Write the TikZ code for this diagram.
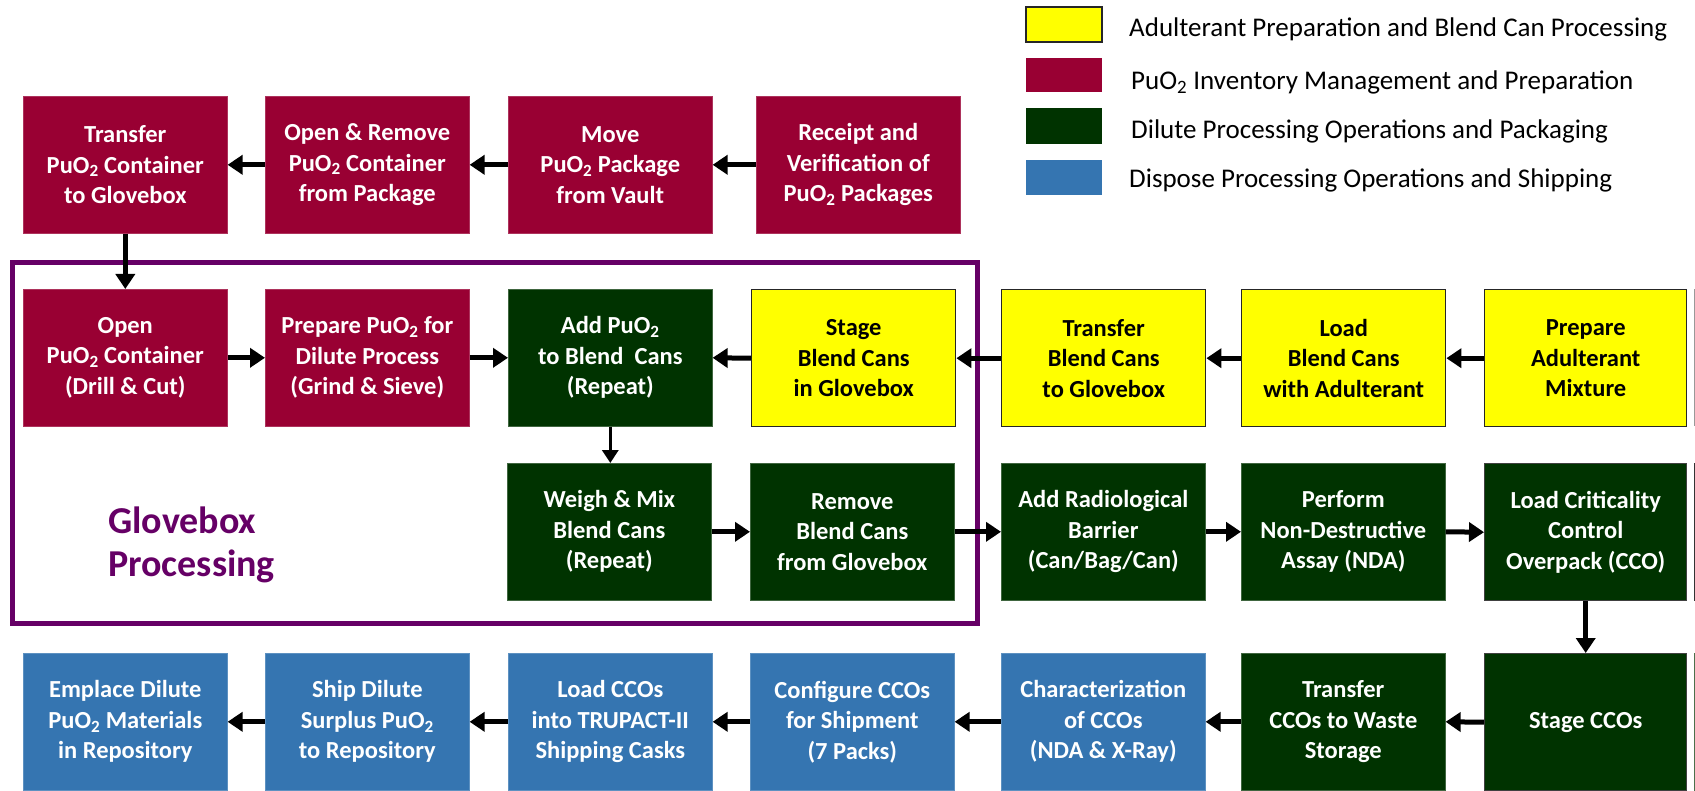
\documentclass[tikz,border=0pt]{standalone}
\usepackage{fontspec}
\setmainfont{Carlito}
\usetikzlibrary{arrows.meta}
\definecolor{pured}{RGB}{153,0,51}
\definecolor{dgreen}{RGB}{0,51,0}
\definecolor{dblue}{RGB}{53,117,177}
\definecolor{yel}{RGB}{255,255,0}
\definecolor{gbox}{RGB}{102,0,102}
\newcommand{\puo}{PuO\textsubscript{2}}
\begin{document}
\begin{tikzpicture}[x=1pt,y=-1pt,
  box/.style={minimum width=204pt,minimum height=137pt,inner sep=0pt,align=center,anchor=north west,
    font=\fontsize{24.5}{30.5}\selectfont\bfseries},
  redbox/.style={box,fill=pured,draw=pured!80!white,line width=0.6pt,text=white},
  grnbox/.style={box,fill=dgreen,draw=dgreen!75!white,line width=0.6pt,text=white},
  grnboxd/.style={box,fill=dgreen,draw=black!75,line width=1.4pt,text=white},
  blubox/.style={box,fill=dblue,draw=dblue!80!white,line width=0.6pt,text=white},
  yelbox/.style={box,fill=yel,draw=black!85,line width=1.4pt,text=black},
  arr/.style={line width=5pt,-{Triangle[length=15pt,width=19pt]}},
  arrthin/.style={line width=3.5pt,-{Triangle[length=13pt,width=16pt]}},
  legtext/.style={anchor=base west,inner sep=0pt,font=\fontsize{27}{32}\selectfont},
  gtext/.style={anchor=base west,inner sep=0pt,text=gbox,font=\fontsize{38}{42}\selectfont\bfseries}
]
\useasboundingbox (0,0) rectangle (1695,791);
\fill[white] (0,0) rectangle (1695,791);

% legend
\fill[yel,draw=black!85,line width=1.4pt] (1026,7) rectangle (1102,42);
\fill[pured] (1026,58) rectangle (1102,92);
\fill[dgreen] (1026,108) rectangle (1102,144);
\fill[dblue] (1026,160) rectangle (1102,195);
\node[legtext] (l1) at (1129,37) {Adulterant Preparation and Blend Can Processing};
\node[legtext] (l2) at (1131,90) {\puo{} Inventory Management and Preparation};
\node[legtext] (l3) at (1131,139) {Dilute Processing Operations and Packaging};
\node[legtext] (l4) at (1129,188) {Dispose Processing Operations and Shipping};

% glovebox frame
\draw[gbox,line width=5pt] (12,263) rectangle (977,623);
\node[gtext] (g1) at (108,533) {Glovebox};
\node[gtext] (g2) at (108,576) {Processing};

% top row
\node[redbox] (tr) at (23,96) {Transfer\\\puo{} Container\\to Glovebox};
\node[redbox] (orm) at (265,96) {Open \& Remove\\\puo{} Container\\from Package};
\node[redbox] (mv) at (508,96) {Move\\\puo{} Package\\from Vault};
\node[redbox] (rc) at (756,96) {Receipt and\\Verification of\\\puo{} Packages};

% middle row
\node[redbox] (op) at (23,289) {Open\\\puo{} Container\\(Drill \& Cut)};
\node[redbox] (pr) at (265,289) {Prepare \puo{} for\\Dilute Process\\(Grind \& Sieve)};
\node[grnbox] (ad) at (508,289) {Add \puo{}\\to Blend~~Cans\\(Repeat)};
\node[yelbox] (st) at (751,289) {Stage\\Blend Cans\\in Glovebox};
\node[yelbox] (tb) at (1001,289) {Transfer\\Blend Cans\\to Glovebox};
\node[yelbox] (lb) at (1241,289) {Load\\Blend Cans\\with Adulterant};
\node[yelbox,minimum width=202pt] (pa) at (1484,289) {Prepare\\Adulterant\\Mixture};

% third row
\node[grnbox] (wm) at (507,463) {Weigh \& Mix\\Blend Cans\\(Repeat)};
\node[grnbox] (rm) at (750,463) {Remove\\Blend Cans\\from Glovebox};
\node[grnbox] (ar) at (1001,463) {Add Radiological\\Barrier\\(Can/Bag/Can)};
\node[grnbox] (pf) at (1241,463) {Perform\\Non-Destructive\\Assay (NDA)};
\node[grnboxd,minimum width=202pt] (lc) at (1484,463) {Load Criticality\\Control\\Overpack (CCO)};

% bottom row
\node[blubox] (em) at (23,653) {Emplace Dilute\\\puo{} Materials\\in Repository};
\node[blubox] (sh) at (265,653) {Ship Dilute\\Surplus \puo{}\\to Repository};
\node[blubox] (lo) at (508,653) {Load CCOs\\into TRUPACT-II\\Shipping Casks};
\node[blubox] (cf) at (750,653) {Configure CCOs\\for Shipment\\(7 Packs)};
\node[blubox] (ch) at (1001,653) {Characterization\\of CCOs\\(NDA \& X-Ray)};
\node[grnbox] (tw) at (1241,653) {Transfer\\CCOs to Waste\\Storage};
\node[grnboxd,minimum width=202pt] (sc) at (1484,653) {Stage CCOs};

% cut-off slivers at right edge
\fill[black!40] (1693.5,289) rectangle (1695,426);
\fill[black!80] (1693.5,463) rectangle (1695,601);
\fill[dgreen!70] (1693.5,653) rectangle (1695,791);

% arrows top row
\draw[arr] (rc.west) -- (mv.east);
\draw[arr] (mv.west) -- (orm.east);
\draw[arr] (orm.west) -- (tr.east);
\draw[arr] (tr.south) -- (op.north);
% middle row
\draw[arr] (op.east) -- (pr.west);
\draw[arr] (pr.east) -- (ad.west);
\draw[arr] (st.west) -- (ad.east);
\draw[arr] (tb.west) -- (st.east);
\draw[arr] (lb.west) -- (tb.east);
\draw[arr] (pa.west) -- (lb.east);
\draw[arrthin] (ad.south) -- (ad.south |- wm.north);
% third row
\draw[arr] (wm.east) -- (rm.west);
\draw[arr] (rm.east) -- (ar.west);
\draw[arr] (ar.east) -- (pf.west);
\draw[arr] (pf.east) -- (lc.west);
\draw[arr] (lc.south) -- (sc.north);
% bottom row
\draw[arr] (sc.west) -- (tw.east);
\draw[arr] (tw.west) -- (ch.east);
\draw[arr] (ch.west) -- (cf.east);
\draw[arr] (cf.west) -- (lo.east);
\draw[arr] (lo.west) -- (sh.east);
\draw[arr] (sh.west) -- (em.east);
\end{tikzpicture}
\end{document}
